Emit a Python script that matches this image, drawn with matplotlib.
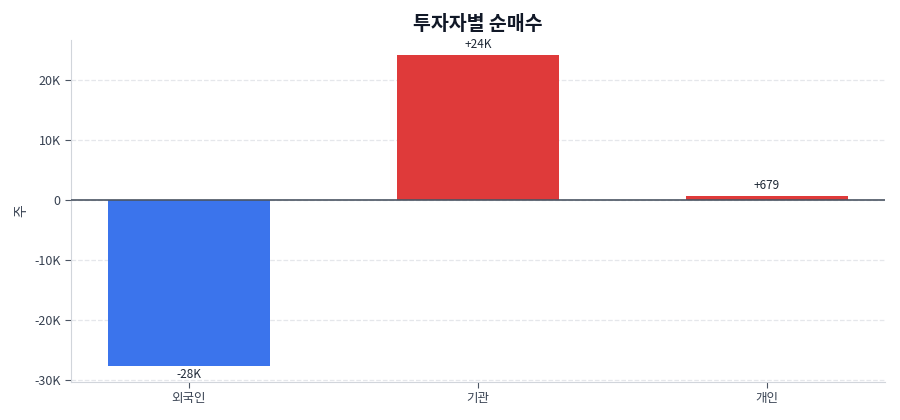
import numpy as np
import matplotlib
matplotlib.use('Agg')
import matplotlib.pyplot as plt
from matplotlib.ticker import FuncFormatter

plt.rcParams['font.family'] = ['Noto Sans CJK KR', 'DejaVu Sans']

investors = ['외국인', '기관', '개인']
net_buy = [-27700, 24000, 679]
labels = ['-28K', '+24K', '+679']

blue = '#3b74ec'
red = '#df3a3a'


def kfmt(v, pos):
    if v == 0:
        return '0'
    return '%dK' % round(v / 1000)


def main():
    fig = plt.figure(figsize=(9, 4.2), dpi=100)
    ax = fig.add_axes([0.079, 0.0905, 0.904, 0.8145])

    x = np.arange(len(investors))
    colors = [blue if v < 0 else red for v in net_buy]
    bars = ax.bar(x, net_buy, width=0.56, color=colors, zorder=3)

    for b, v, t in zip(bars, net_buy, labels):
        if v >= 0:
            ax.annotate(t, (b.get_x() + b.get_width() / 2, v), xytext=(0, 3),
                        textcoords='offset points', ha='center', va='bottom',
                        fontsize=8.5, color='#1f2937')
        else:
            ax.annotate(t, (b.get_x() + b.get_width() / 2, v), xytext=(0, -1),
                        textcoords='offset points', ha='center', va='top',
                        fontsize=8.5, color='#1f2937')

    ax.axhline(0, color='#4b5563', lw=1.2, zorder=4)
    ax.set_xticks(x)
    ax.set_xticklabels(investors)
    ax.set_yticks([-30000, -20000, -10000, 0, 10000, 20000])
    ax.yaxis.set_major_formatter(FuncFormatter(kfmt))
    ax.grid(axis='y', color='#e5e7eb', linestyle='--', lw=0.9, zorder=0)

    ax.tick_params(labelsize=9, colors='#4b5563', labelcolor='#374151', length=4)
    for s in ['top', 'right']:
        ax.spines[s].set_visible(False)
    for s in ['left', 'bottom']:
        ax.spines[s].set_color('#d1d5db')

    ax.set_ylabel('주', fontsize=10, color='#374151')
    ax.set_title('투자자별 순매수', fontsize=14, fontweight='bold',
                 color='#111827', pad=7)

    fig.savefig('out.png', dpi=100)


if __name__ == '__main__':
    main()
